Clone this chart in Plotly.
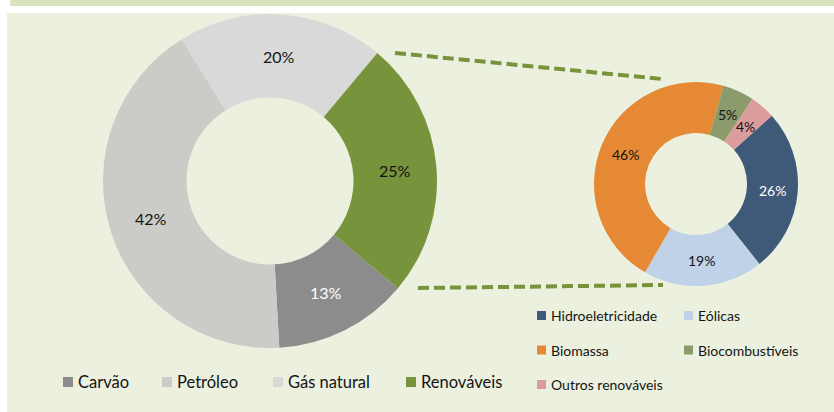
import math
import plotly.graph_objects as go

# ---------------- data ----------------
main_labels = ["Carvão", "Petróleo", "Gás natural", "Renováveis"]
main_values = [13, 42, 20, 25]
main_colors = ["#8c8c8c", "#cbccc8", "#d9d9d9", "#77933c"]
main_text_colors = ["#ffffff", "#141414", "#141414", "#141414"]

ren_labels = ["Hidroeletricidade", "Eólicas", "Biomassa", "Biocombustíveis", "Outros renováveis"]
ren_values = [26, 19, 46, 5, 4]
ren_colors = ["#3f5a78", "#bfd2e7", "#e58935", "#8c9b6c", "#da9d9c"]
ren_text_colors = ["#ffffff", "#141414", "#141414", "#141414", "#141414"]

# ---------------- layout constants ----------------
W, H = 834, 412
FONT = "Lato"
GREEN = "#77933c"

# pie geometry in pixels (center x, center y from top, radius)
MAIN_C = (270, 181, 167)
REN_C = (696, 184, 102)
MAIN_ROT = 130
REN_ROT = 48
HOLE = 0.5


def domain(c):
    cx, cy, r = c
    return dict(x=[(cx - r) / W, (cx + r) / W],
                y=[(H - cy - r) / H, (H - cy + r) / H])


def px(x, y):
    return x / W, 1 - y / H


fig = go.Figure()
fig.add_trace(go.Pie(labels=main_labels, values=main_values, hole=HOLE, sort=False,
                     direction="clockwise", rotation=MAIN_ROT, textinfo="none",
                     marker=dict(colors=main_colors, line=dict(width=0)),
                     domain=domain(MAIN_C), showlegend=False, hoverinfo="label+percent"))
fig.add_trace(go.Pie(labels=ren_labels, values=ren_values, hole=HOLE, sort=False,
                     direction="clockwise", rotation=REN_ROT, textinfo="none",
                     marker=dict(colors=ren_colors, line=dict(width=0)),
                     domain=domain(REN_C), showlegend=False, hoverinfo="label+percent"))

annotations = []


def slice_labels(values, c, rot, colors, size):
    cx, cy, r = c
    rm = r * (1 + HOLE) / 2
    total = sum(values)
    start = rot
    for v, col in zip(values, colors):
        span = 360 * v / total
        mid = math.radians(start + span / 2)
        x = cx + rm * math.sin(mid)
        y = cy - rm * math.cos(mid)
        xp, yp = px(x, y)
        annotations.append(dict(x=xp, y=yp, xref="paper", yref="paper", showarrow=False,
                                text=f"{round(100 * v / total)}%",
                                font=dict(family=FONT, size=size, color=col),
                                xanchor="center", yanchor="middle"))
        start += span


slice_labels(main_values, MAIN_C, MAIN_ROT, main_text_colors, 16)
slice_labels(ren_values, REN_C, REN_ROT, ren_text_colors, 14)

shapes = [
    # title band & chart area
    dict(type="rect", xref="paper", yref="paper", x0=10 / W, x1=1, y0=1 - 6 / H, y1=1,
         fillcolor="#d7e4bc", line=dict(width=0), layer="below"),
    dict(type="rect", xref="paper", yref="paper", x0=7 / W, x1=1, y0=0, y1=1 - 13 / H,
         fillcolor="#ebf1de", line=dict(width=0), layer="below"),
]

# connector lines
for (x0, y0, x1, y1) in [(395, 53, 662, 79), (418, 288, 663, 285)]:
    a0 = px(x0, y0)
    a1 = px(x1, y1)
    shapes.append(dict(type="line", xref="paper", yref="paper", x0=a0[0], y0=a0[1],
                       x1=a1[0], y1=a1[1], line=dict(color=GREEN, width=4, dash="11px,5px")))

# legends (manual)
main_leg_x = [63, 162, 273, 406]
main_leg_y = 382
for lab, col, lx in zip(main_labels, main_colors, main_leg_x):
    shapes.append(dict(type="rect", xref="paper", yref="paper",
                       x0=lx / W, x1=(lx + 10) / W,
                       y0=1 - (main_leg_y + 5) / H, y1=1 - (main_leg_y - 5) / H,
                       fillcolor=col, line=dict(width=0)))
    xp, yp = px(lx + 13, main_leg_y)
    annotations.append(dict(x=xp, y=yp, xref="paper", yref="paper", showarrow=False,
                            text=lab, xanchor="left", yanchor="middle",
                            font=dict(family=FONT, size=16.5, color="#141414")))

ren_leg_cols = [537, 684]
ren_leg_rows = [315.5, 350, 384.5]
for i, (lab, col) in enumerate(zip(ren_labels, ren_colors)):
    lx = ren_leg_cols[i % 2]
    ly = ren_leg_rows[i // 2]
    shapes.append(dict(type="rect", xref="paper", yref="paper",
                       x0=lx / W, x1=(lx + 9) / W,
                       y0=1 - (ly + 4.5) / H, y1=1 - (ly - 4.5) / H,
                       fillcolor=col, line=dict(width=0)))
    xp, yp = px(lx + 12, ly)
    annotations.append(dict(x=xp, y=yp, xref="paper", yref="paper", showarrow=False,
                            text=lab, xanchor="left", yanchor="middle",
                            font=dict(family=FONT, size=14, color="#141414")))

fig.update_layout(width=W, height=H, margin=dict(l=0, r=0, t=0, b=0),
                  paper_bgcolor="#ffffff", plot_bgcolor="#ffffff",
                  font=dict(family=FONT), shapes=shapes, annotations=annotations,
                  showlegend=False)

fig.write_html("out.html", config={"displayModeBar": False},
               post_script="document.body.style.margin='0px';document.body.style.overflow='hidden';")
